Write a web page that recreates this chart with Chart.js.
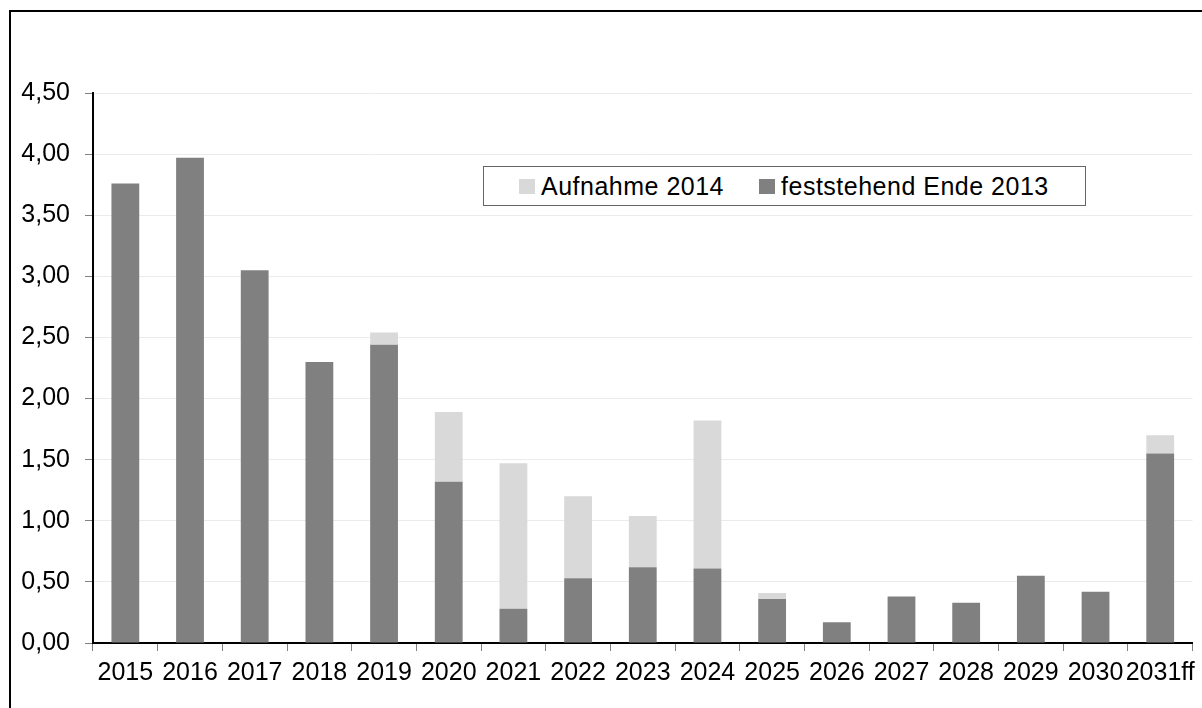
<!DOCTYPE html>
<html>
<head>
<meta charset="utf-8">
<script src="https://cdn.jsdelivr.net/npm/chart.js@4"></script>
<style>
  body { margin: 0; background: #fff; }
  #wrap { position: relative; width: 1202px; height: 708px; overflow: hidden; font-family: "Liberation Sans", Arial, sans-serif; }
  #frame { position: absolute; left: 9px; top: 10px; width: 1300px; height: 800px; border-left: 2px solid #000; border-top: 2px solid #000; }
  #legend { position: absolute; left: 483px; top: 166px; width: 601px; height: 38px; border: 1px solid #666; background: #fff;
            display: flex; align-items: center; font-size: 25px; letter-spacing: 0.5px; color: #000; }
  #legend .item { display: flex; align-items: center; }
  #legend .sw { width: 16px; height: 15px; margin-right: 6px; }
</style>
</head>
<body>
<div id="wrap">
  <canvas id="chart" width="1202" height="708"></canvas>
  <div id="frame"></div>
  <div id="legend"></div>
</div>
<script>
// values in Mrd. per year
const years = ['2015', '2016', '2017', '2018', '2019', '2020', '2021', '2022', '2023', '2024',
               '2025', '2026', '2027', '2028', '2029', '2030', '2031ff'];
const feststehend = [3.76, 3.97, 3.05, 2.30, 2.44, 1.32, 0.28, 0.53, 0.62, 0.61,
                     0.36, 0.17, 0.38, 0.33, 0.55, 0.42, 1.55];
const aufnahme = [0, 0, 0, 0, 0.10, 0.57, 1.19, 0.67, 0.42, 1.21,
                  0.05, 0, 0, 0, 0, 0, 0.15];
const yTicks = [0, 0.5, 1, 1.5, 2, 2.5, 3, 3.5, 4, 4.5];

const darkGrey = '#808080';
const lightGrey = '#d9d9d9';

const tickFont = { family: '"Liberation Sans", Arial', size: 25 };

const ctx = document.getElementById('chart').getContext('2d');
const chart = new Chart(ctx, {
    type: 'bar',
    data: {
        labels: years,
        datasets: [
            { label: 'feststehend Ende 2013', data: feststehend, backgroundColor: darkGrey,
              barPercentage: 0.43, categoryPercentage: 1 },
            { label: 'Aufnahme 2014', data: aufnahme, backgroundColor: lightGrey,
              barPercentage: 0.43, categoryPercentage: 1 }
        ]
    },
    options: {
        responsive: false,
        animation: false,
        layout: { padding: { top: 93, right: 9, left: 0, bottom: 0 } },
        plugins: {
            legend: { display: false },
            tooltip: { enabled: false }
        },
        scales: {
            x: {
                stacked: true,
                afterFit: s => { s.height = 65; },
                grid: { offset: true, drawOnChartArea: false, tickLength: 8, tickColor: darkGrey },
                border: { color: '#000', width: 2 },
                ticks: { color: '#000', padding: 7, maxRotation: 0, autoSkip: false, font: tickFont }
            },
            y: {
                stacked: true,
                min: 0,
                max: 4.5,
                afterFit: s => { s.width = 93; },
                afterBuildTicks: s => { s.ticks = yTicks.map(v => ({ value: v })); },
                grid: { color: '#ebebeb', tickLength: 8, tickColor: darkGrey },
                border: { color: '#000', width: 2 },
                ticks: {
                    color: '#000',
                    padding: 15,
                    font: tickFont,
                    callback: v => v.toFixed(2).replace('.', ',')
                }
            }
        }
    }
});

// legend box, light series first as in the original
const legend = document.getElementById('legend');
[1, 0].forEach(i => {
    const ds = chart.data.datasets[i];
    const item = document.createElement('div');
    item.className = 'item';
    item.style.marginLeft = '35px';
    item.innerHTML = '<span class="sw" style="background:' + ds.backgroundColor + '"></span>' + ds.label;
    legend.appendChild(item);
});
</script>
</body>
</html>
